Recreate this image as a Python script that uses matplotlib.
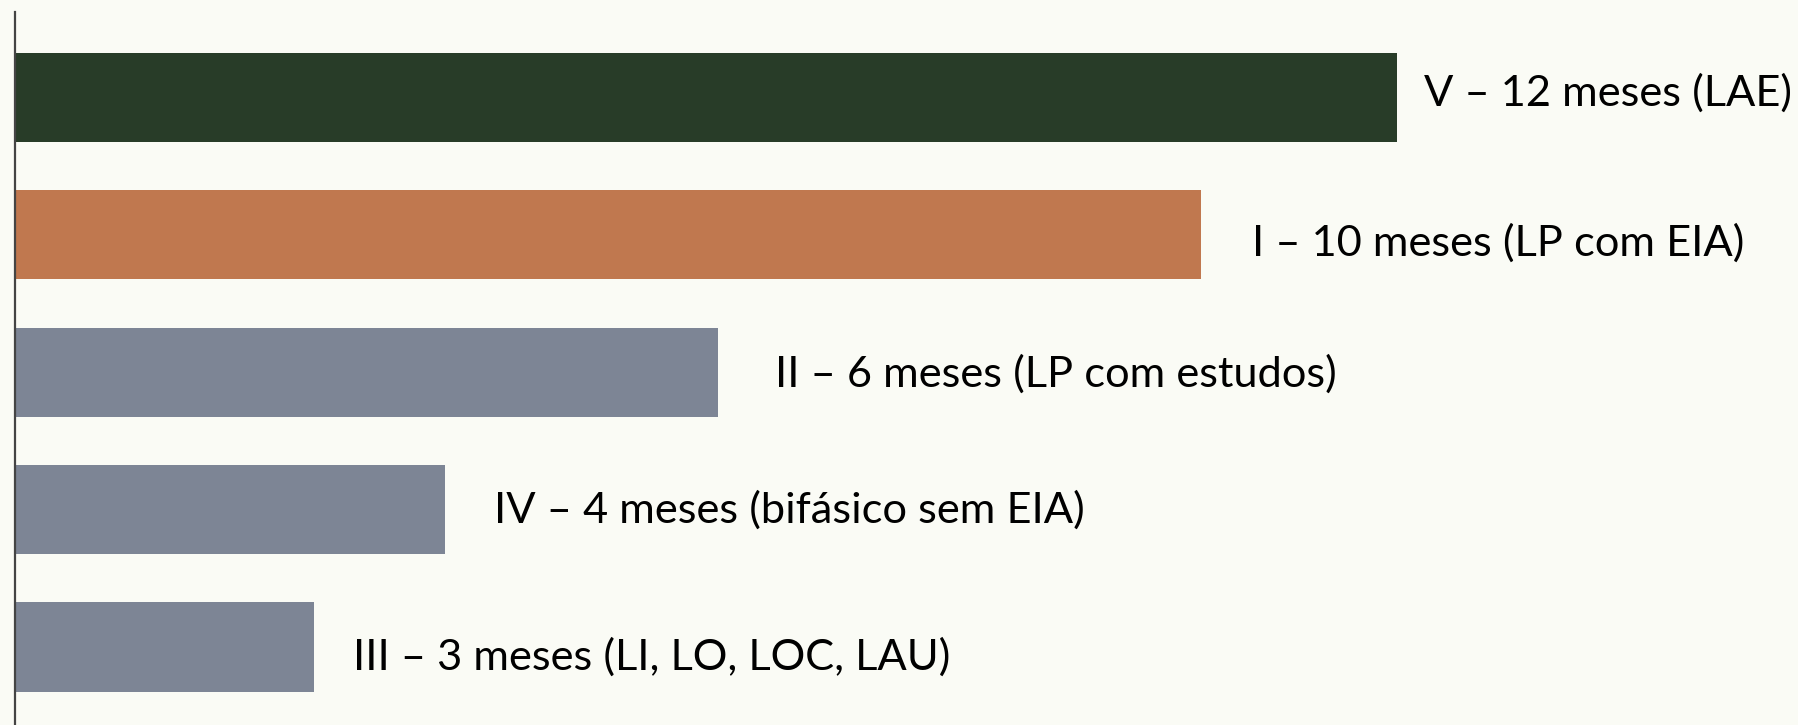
"""
Prazos de licenciamento por modalidade - barras horizontais.
"""
import matplotlib
matplotlib.use("Agg")
from matplotlib import pyplot as plt

# Data (top to bottom)
labels = [
    "V – 12 meses (LAE)",
    "I – 10 meses (LP com EIA)",
    "II – 6 meses (LP com estudos)",
    "IV – 4 meses (bifásico sem EIA)",
    "III – 3 meses (LI, LO, LOC, LAU)",
]
bar_values = [12.0, 10.3, 6.1, 3.73, 2.6]
bar_colors = ["#283C28", "#C0784F", "#7D8595", "#7D8595", "#7D8595"]

# label offsets from bar end, in pixels (x gap, y shift downwards)
label_gap = [27, 51, 57, 49, 39]
label_dy = [-4, 8, 2, 0, 10]

BG = "#FAFBF5"

plt.rcParams["font.family"] = ["Lato", "DejaVu Sans"]

fig = plt.figure(figsize=(17.98, 7.25), dpi=100, facecolor=BG)
ax = fig.add_axes([15 / 1798, 0.0, 1 - 15 / 1798, 1 - 12 / 725])
ax.set_facecolor(BG)

positions = list(range(len(labels)))
ax.barh(positions, bar_values, height=0.65, color=bar_colors, left=0)

# px per unit: bar for 12 spans 1382 px
px_per_unit = 1382 / 12.0
ax.set_xlim(0, (1798 - 15) / px_per_unit)
ax.set_ylim(4.568, -0.622)

for pos, val, text, gap, dy in zip(positions, bar_values, labels, label_gap, label_dy):
    ax.annotate(
        text,
        xy=(val, pos),
        xytext=(gap * 0.72, -dy * 0.72),
        textcoords="offset points",
        va="center",
        ha="left",
        fontsize=31.2,
        color="black",
    )

for side in ["top", "right", "bottom"]:
    ax.spines[side].set_visible(False)
ax.spines["left"].set_color("#444444")
ax.spines["left"].set_linewidth(1.6)
ax.set_xticks([])
ax.set_yticks([])

fig.savefig("out.png", dpi=100, facecolor=BG)
